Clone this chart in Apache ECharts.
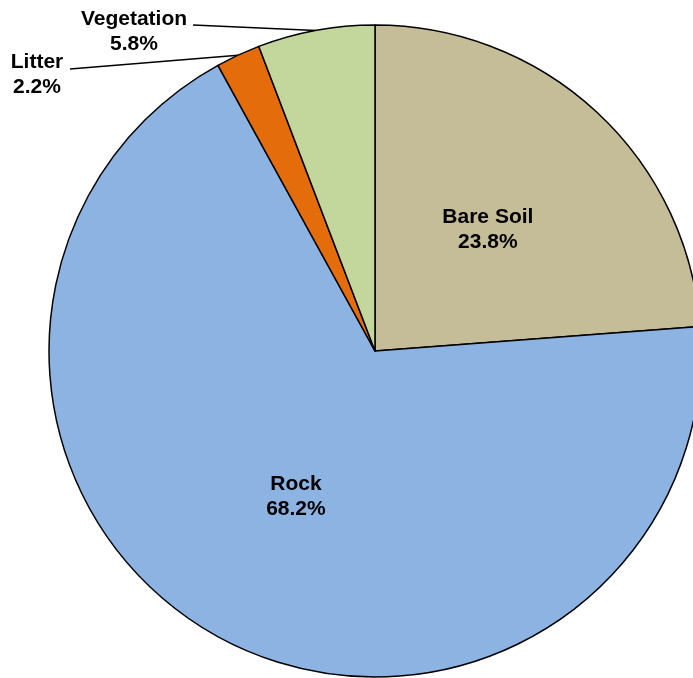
<!DOCTYPE html>
<html>
<head>
<meta charset="utf-8">
<script src="https://cdn.jsdelivr.net/npm/echarts@6/dist/echarts.min.js"></script>
<style>
html,body{margin:0;padding:0;background:#fff;}
#chart{width:693px;height:678px;}
</style>
</head>
<body>
<div id="chart"></div>
<script>
var categories = ['Bare Soil', 'Rock', 'Litter', 'Vegetation'];
var values = [23.8, 68.2, 2.2, 5.8];
var colors = ['#C4BD97', '#8DB3E2', '#E46C0A', '#C3D69B'];
var outsideLabels = ['Litter', 'Vegetation'];

var chart = echarts.init(document.getElementById('chart'), null, {renderer: 'canvas'});

var data = categories.map(function (c, i) {
  var outside = outsideLabels.indexOf(c) >= 0;
  return {
    name: c,
    value: values[i],
    itemStyle: {color: colors[i]},
    label: {position: outside ? 'outside' : 'inside'},
    labelLine: {show: outside}
  };
});

// target label placements for the outside labels (label center, line end)
var outsidePlace = {
  'Vegetation': {x: 134, y: 32, lx: 193, ly: 25},
  'Litter': {x: 37, y: 75, lx: 70, ly: 69}
};

chart.setOption({
  animation: false,
  backgroundColor: '#ffffff',
  series: [{
    type: 'pie',
    center: [375, 351],
    radius: [0, 326],
    startAngle: 90,
    clockwise: true,
    avoidLabelOverlap: false,
    data: data,
    itemStyle: {borderColor: '#000000', borderWidth: 1.5},
    emphasis: {disabled: true},
    label: {
      show: true,
      color: '#000000',
      fontFamily: 'Liberation Sans, Arial, sans-serif',
      fontWeight: 'bold',
      fontSize: 21,
      lineHeight: 25,
      align: 'center',
      formatter: function (p) { return p.name + '\n' + p.value.toFixed(1) + '%'; }
    },
    labelLine: {
      show: true,
      length: 5,
      length2: 10,
      smooth: false,
      lineStyle: {color: '#000000', width: 1.5}
    },
    labelLayout: function (params) {
      var name = categories[params.dataIndex];
      var pl = outsidePlace[name];
      if (!pl) return {};
      var start = params.labelLinePoints ? params.labelLinePoints[0] : null;
      var res = {x: pl.x, y: pl.y, align: 'center', verticalAlign: 'middle'};
      if (start) res.labelLinePoints = [start, [pl.lx, pl.ly], [pl.lx, pl.ly]];
      return res;
    }
  }]
});
</script>
</body>
</html>
